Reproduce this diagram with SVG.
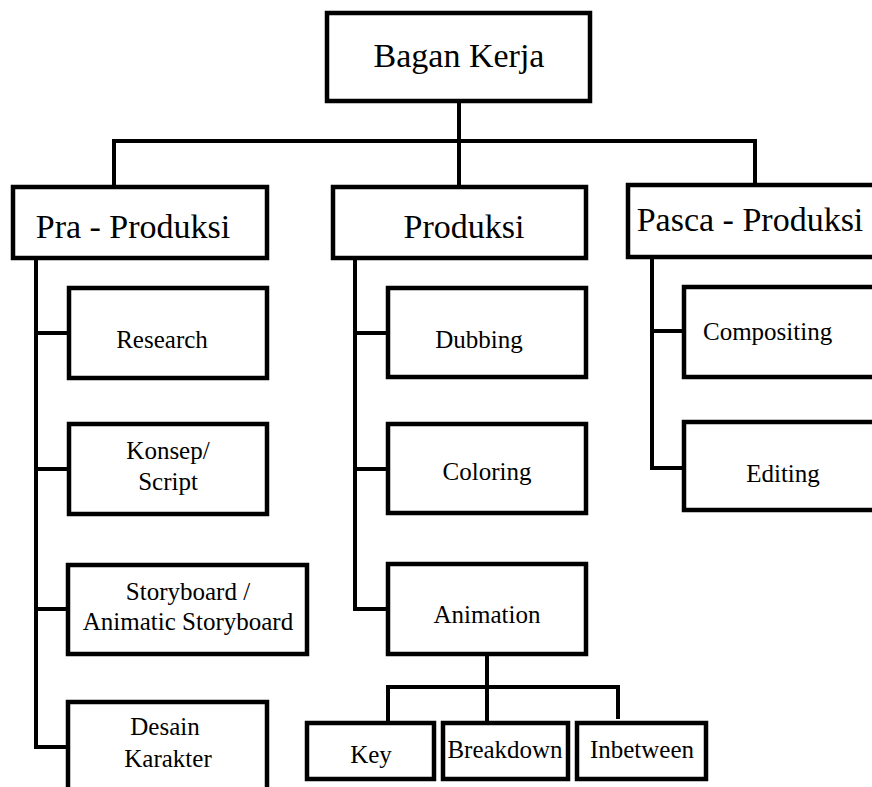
<svg xmlns="http://www.w3.org/2000/svg" width="872" height="787" viewBox="0 0 872 787">
<style>
.box{fill:#fff;stroke:#000;stroke-width:4.5}
.ln{fill:none;stroke:#000;stroke-width:4;stroke-linejoin:miter;stroke-linecap:square}
</style>
<rect width="872" height="787" fill="#fff"/>
<g id="connectors">
<path class="ln" d="M459 101V186"/>
<path class="ln" d="M114 186V141H755V185"/>
<path class="ln" d="M36 258V747H68"/>
<path class="ln" d="M36 333H69"/>
<path class="ln" d="M36 469H69"/>
<path class="ln" d="M36 609H68"/>
<path class="ln" d="M355 258V609H388"/>
<path class="ln" d="M355 333H388"/>
<path class="ln" d="M355 469H388"/>
<path class="ln" d="M652 257V468H684"/>
<path class="ln" d="M652 331H684"/>
<path class="ln" d="M487 654V723"/>
<path class="ln" d="M388 723V687H618V717"/>
</g>
<g font-family="Liberation Serif" font-size="34" text-anchor="middle">
<g id="bagan-kerja"><rect class="box" x="327" y="13" width="263" height="88"/><text x="459" y="67">Bagan Kerja</text></g>
<g id="pra-produksi"><rect class="box" x="13" y="187" width="254" height="71"/><text x="133" y="238">Pra - Produksi</text></g>
<g id="produksi"><rect class="box" x="333" y="187" width="253" height="71"/><text x="464" y="238">Produksi</text></g>
<g id="pasca-produksi"><rect class="box" x="628" y="185" width="260" height="72"/><text x="750" y="231">Pasca - Produksi</text></g>
</g>
<g font-family="Liberation Serif" font-size="25" text-anchor="middle">
<g id="research"><rect class="box" x="69" y="288" width="198" height="90"/><text x="162" y="348">Research</text></g>
<g id="konsep"><rect class="box" x="69" y="424" width="198" height="90"/><text x="168" y="459">Konsep/</text><text x="168" y="490">Script</text></g>
<g id="storyboard"><rect class="box" x="68" y="565" width="239" height="89"/><text x="188" y="600">Storyboard /</text><text x="188" y="630">Animatic Storyboard</text></g>
<g id="desain-karakter"><rect class="box" x="68" y="702" width="199" height="100"/><text x="165" y="735">Desain</text><text x="168" y="767">Karakter</text></g>
<g id="dubbing"><rect class="box" x="388" y="288" width="198" height="89"/><text x="479" y="348">Dubbing</text></g>
<g id="coloring"><rect class="box" x="388" y="424" width="198" height="89"/><text x="487" y="480">Coloring</text></g>
<g id="animation"><rect class="box" x="388" y="564" width="198" height="90"/><text x="487" y="623">Animation</text></g>
<g id="compositing"><rect class="box" x="684" y="287" width="210" height="90"/><text x="703" y="340" text-anchor="start">Compositing</text></g>
<g id="editing"><rect class="box" x="684" y="422" width="210" height="88"/><text x="783" y="482">Editing</text></g>
<g id="key"><rect class="box" x="307" y="723" width="127" height="56"/><text x="371" y="763">Key</text></g>
<g id="breakdown"><rect class="box" x="443" y="723" width="125" height="56"/><text x="505" y="758">Breakdown</text></g>
<g id="inbetween"><rect class="box" x="577" y="723" width="129" height="56"/><text x="642" y="758">Inbetween</text></g>
</g>
</svg>
